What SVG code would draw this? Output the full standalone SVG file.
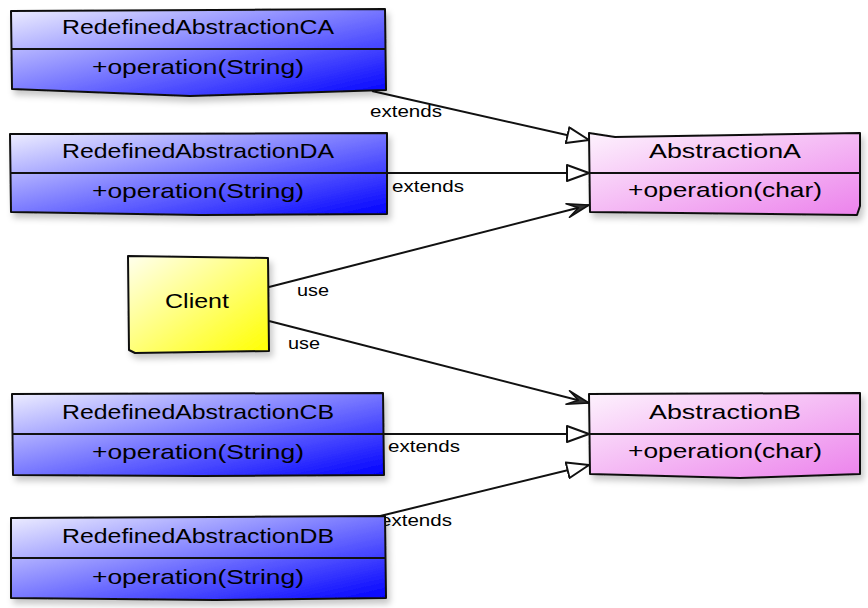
<svg xmlns="http://www.w3.org/2000/svg" width="868" height="608" viewBox="0 0 868 608">
<style>
.box{stroke:#111;stroke-width:2;stroke-linejoin:round}
.div{stroke:#111;stroke-width:2;fill:none}
.t{font-family:"Liberation Sans",Arial,sans-serif;font-size:21px;fill:#000;text-anchor:middle}
.lbl{font-family:"Liberation Sans",Arial,sans-serif;font-size:16px;fill:#000}
.edge{stroke:#111;stroke-width:2;fill:none}
</style>
<defs>
<linearGradient id="gBlue" x1="0" y1="0" x2="1" y2="1">
<stop offset="0" stop-color="#eeeeff"/>
<stop offset="1" stop-color="#0000ff"/>
</linearGradient>
<linearGradient id="gPink" x1="0" y1="0" x2="1" y2="1">
<stop offset="0" stop-color="#fdf2fd"/>
<stop offset="1" stop-color="#ec82ec"/>
</linearGradient>
<linearGradient id="gYellow" x1="0" y1="0" x2="1" y2="1">
<stop offset="0" stop-color="#ffffee"/>
<stop offset="1" stop-color="#ffff00"/>
</linearGradient>
<filter id="sh" x="-10%" y="-10%" width="125%" height="135%">
<feDropShadow dx="3" dy="5" stdDeviation="3" flood-color="#000" flood-opacity="0.22"/>
</filter>
<marker id="tri" viewBox="0 0 24 18" refX="23" refY="9" markerWidth="24" markerHeight="18" markerUnits="userSpaceOnUse" orient="auto">
<path d="M1,1 L23,9 L1,17 Z" fill="#fff" stroke="#111" stroke-width="2" stroke-linejoin="round"/>
</marker>
<marker id="vee" viewBox="0 0 24 18" refX="23" refY="9" markerWidth="24" markerHeight="18" markerUnits="userSpaceOnUse" orient="auto">
<path d="M1,2 L23,9 L1,16 L12,9 Z" fill="#333" stroke="#111" stroke-width="1.5" stroke-linejoin="round"/>
</marker>
</defs>
<rect width="868" height="608" fill="#fff"/>

<g id="connectors">
<line class="edge" x1="372" y1="91" x2="589" y2="140" marker-end="url(#tri)"/>
<text class="lbl" x="370" y="117" textLength="72" lengthAdjust="spacingAndGlyphs">extends</text>
<line class="edge" x1="387" y1="173" x2="589" y2="173" marker-end="url(#tri)"/>
<text class="lbl" x="392" y="192" textLength="72" lengthAdjust="spacingAndGlyphs">extends</text>
<line class="edge" x1="269" y1="287" x2="589" y2="205" marker-end="url(#vee)"/>
<text class="lbl" x="297" y="296" textLength="32" lengthAdjust="spacingAndGlyphs">use</text>
<line class="edge" x1="269" y1="321" x2="589" y2="403" marker-end="url(#vee)"/>
<text class="lbl" x="288" y="349" textLength="32" lengthAdjust="spacingAndGlyphs">use</text>
<line class="edge" x1="384" y1="434" x2="589" y2="434" marker-end="url(#tri)"/>
<text class="lbl" x="388" y="452" textLength="72" lengthAdjust="spacingAndGlyphs">extends</text>
<line class="edge" x1="372" y1="518" x2="589" y2="465" marker-end="url(#tri)"/>
<text class="lbl" x="380" y="526" textLength="72" lengthAdjust="spacingAndGlyphs">extends</text>
</g>

<g id="RedefinedAbstractionCA">
<path class="box" fill="url(#gBlue)" filter="url(#sh)" d="M11,11 L385,9 L386,90 L190,96 L12,89 Z"/>
<line class="div" x1="11" y1="49" x2="386" y2="49"/>
<text class="t" x="198" y="34" textLength="272" lengthAdjust="spacingAndGlyphs">RedefinedAbstractionCA</text>
<text class="t" x="198" y="74" textLength="212" lengthAdjust="spacingAndGlyphs">+operation(String)</text>
</g>

<g id="RedefinedAbstractionDA">
<path class="box" fill="url(#gBlue)" filter="url(#sh)" d="M10,134 L60,134 L387,133 L387,214 L200,215 L11,212 Z"/>
<line class="div" x1="10" y1="173" x2="387" y2="173"/>
<text class="t" x="198" y="158" textLength="272" lengthAdjust="spacingAndGlyphs">RedefinedAbstractionDA</text>
<text class="t" x="198" y="198" textLength="212" lengthAdjust="spacingAndGlyphs">+operation(String)</text>
</g>

<g id="Client">
<path class="box" fill="url(#gYellow)" filter="url(#sh)" d="M128,256 L268,258 L269,351 L135,353 L129,350 Z"/>
<text class="t" x="197" y="308" textLength="64" lengthAdjust="spacingAndGlyphs">Client</text>
</g>

<g id="RedefinedAbstractionCB">
<path class="box" fill="url(#gBlue)" filter="url(#sh)" d="M12,394 L383,393 L384,475 L200,476 L13,475 Z"/>
<line class="div" x1="12" y1="434" x2="384" y2="434"/>
<text class="t" x="198" y="419" textLength="272" lengthAdjust="spacingAndGlyphs">RedefinedAbstractionCB</text>
<text class="t" x="198" y="459" textLength="212" lengthAdjust="spacingAndGlyphs">+operation(String)</text>
</g>

<g id="RedefinedAbstractionDB">
<path class="box" fill="url(#gBlue)" filter="url(#sh)" d="M11,518 L385,516 L386,598 L215,600 L11,598 Z"/>
<line class="div" x1="11" y1="558" x2="386" y2="558"/>
<text class="t" x="198" y="543" textLength="272" lengthAdjust="spacingAndGlyphs">RedefinedAbstractionDB</text>
<text class="t" x="198" y="584" textLength="212" lengthAdjust="spacingAndGlyphs">+operation(String)</text>
</g>

<g id="AbstractionA">
<path class="box" fill="url(#gPink)" filter="url(#sh)" d="M589,133 L615,137 L860,133 L860,206 L857,215 L590,212 Z"/>
<line class="div" x1="589" y1="173" x2="860" y2="173"/>
<text class="t" x="725" y="158" textLength="152" lengthAdjust="spacingAndGlyphs">AbstractionA</text>
<text class="t" x="725" y="197" textLength="194" lengthAdjust="spacingAndGlyphs">+operation(char)</text>
</g>

<g id="AbstractionB">
<path class="box" fill="url(#gPink)" filter="url(#sh)" d="M589,394 L860,393 L860,474 L740,478 L590,474 Z"/>
<line class="div" x1="589" y1="434" x2="860" y2="434"/>
<text class="t" x="725" y="419" textLength="152" lengthAdjust="spacingAndGlyphs">AbstractionB</text>
<text class="t" x="725" y="458" textLength="194" lengthAdjust="spacingAndGlyphs">+operation(char)</text>
</g>
</svg>
